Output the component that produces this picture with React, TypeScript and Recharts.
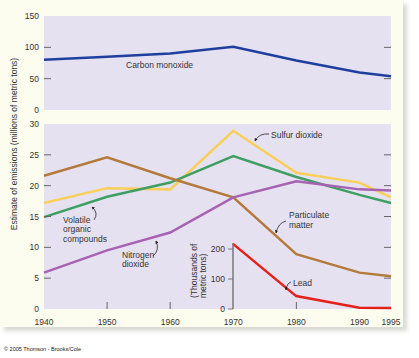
import { LineChart, Line, XAxis, YAxis, CartesianGrid } from 'recharts';

// years on the shared time axis
const years = [1940, 1950, 1960, 1970, 1980, 1990, 1995];
// millions of metric tons
const carbonMonoxide = [80, 85, 90, 101, 79, 60, 54];
const sulfurDioxide = [17.2, 19.6, 19.4, 28.9, 22.1, 20.5, 18.1];
const volatileOrganic = [14.9, 18.2, 20.5, 24.8, 21.4, 18.5, 17.2];
const particulate = [21.6, 24.6, 21.2, 18.1, 8.9, 5.9, 5.3];
const nitrogenDioxide = [5.9, 9.5, 12.4, 18.1, 20.7, 19.4, 19.2];
// lead, thousands of metric tons
const leadYears = [1970, 1980, 1990, 1995];
const lead = [217, 43, 4, 3];

const coTicks = [0, 50, 100, 150];
const mainTicks = [0, 5, 10, 15, 20, 25, 30];
const leadTicks = [0, 100, 200];
const yearTicks = [1940, 1950, 1960, 1970, 1980, 1990, 1995];
const yearTickMarks = [1950, 1960, 1980];

const W = 419;
const H = 358;
const PLOT_LEFT = 44;
const PLOT_RIGHT = 391;
const PANEL = '#e6e1f1';
const TEXT = '#333';
const FONT = '"Liberation Sans", Arial, sans-serif';

const coData = years.map((year, i) => ({ year, co: carbonMonoxide[i] }));
const mainData = years.map((year, i) => ({
  year,
  so2: sulfurDioxide[i],
  voc: volatileOrganic[i],
  pm: particulate[i],
  no2: nitrogenDioxide[i],
}));
const leadData = leadYears.map((year, i) => ({ year, lead: lead[i] }));

function yTick(props: any, min: number, max: number) {
  const { y, payload } = props;
  const inner = payload.value !== min && payload.value !== max;
  return (
    <g>
      <text x={PLOT_LEFT - 5} y={y + 3} textAnchor="end" fontSize={8.5} fill={TEXT} fontFamily={FONT}>
        {payload.value}
      </text>
      {inner && <line x1={PLOT_LEFT} x2={PLOT_LEFT + 7} y1={y} y2={y} stroke="#666" strokeWidth={1} />}
      {inner && <line x1={PLOT_RIGHT - 7} x2={PLOT_RIGHT} y1={y} y2={y} stroke="#666" strokeWidth={1} />}
    </g>
  );
}

function xTick(props: any) {
  const { x, payload } = props;
  const base = 309;
  return (
    <g>
      {yearTickMarks.includes(payload.value) && (
        <line x1={x} x2={x} y1={base} y2={base - 7} stroke="#666" strokeWidth={1} />
      )}
      <text x={x} y={base + 16} textAnchor="middle" fontSize={8.5} fill={TEXT} fontFamily={FONT}>
        {payload.value}
      </text>
    </g>
  );
}

const layer: React.CSSProperties = { position: 'absolute', left: 0, top: 0 };

export default function App() {
  return (
    <div style={{ position: 'absolute', left: 0, top: 0, width: W, height: H, background: '#fff', fontFamily: FONT }}>
      <div
        style={{
          ...layer,
          width: 403,
          height: 327,
          background: '#fdfdef',
          boxShadow: '4px 4px 4px rgba(130,130,110,0.3)',
        }}
      />

      {/* Carbon monoxide panel */}
      <div style={layer}>
        <LineChart width={W} height={H} data={coData} margin={{ top: 16, right: W - PLOT_RIGHT, bottom: H - 110, left: 0 }}>
          <CartesianGrid fill={PANEL} horizontal={false} vertical={false} />
          <XAxis dataKey="year" type="number" domain={[1940, 1995]} hide />
          <YAxis
            width={PLOT_LEFT}
            domain={[0, 150]}
            ticks={coTicks}
            axisLine={false}
            tickLine={false}
            tickSize={0}
            tickMargin={0}
            tick={(p: any) => yTick(p, 0, 150)}
          />
          <Line type="linear" dataKey="co" stroke="#1f3f9f" strokeWidth={2.5} dot={false} isAnimationActive={false} />
        </LineChart>
      </div>

      {/* Main pollutants panel */}
      <div style={layer}>
        <LineChart width={W} height={H} data={mainData} margin={{ top: 124, right: W - PLOT_RIGHT, bottom: H - 309 - 20, left: 0 }}>
          <CartesianGrid fill={PANEL} horizontal={false} vertical={false} />
          <XAxis
            dataKey="year"
            type="number"
            domain={[1940, 1995]}
            ticks={yearTicks}
            interval={0}
            height={20}
            axisLine={false}
            tickLine={false}
            tickSize={0}
            tickMargin={0}
            tick={xTick}
          />
          <YAxis
            width={PLOT_LEFT}
            domain={[0, 30]}
            ticks={mainTicks}
            axisLine={false}
            tickLine={false}
            tickSize={0}
            tickMargin={0}
            tick={(p: any) => yTick(p, 0, 30)}
          />
          <Line type="linear" dataKey="so2" stroke="#f9cf5a" strokeWidth={2.5} dot={false} isAnimationActive={false} />
          <Line type="linear" dataKey="voc" stroke="#3f9f63" strokeWidth={2.5} dot={false} isAnimationActive={false} />
          <Line type="linear" dataKey="pm" stroke="#b47a3c" strokeWidth={2.5} dot={false} isAnimationActive={false} />
          <Line type="linear" dataKey="no2" stroke="#a762b2" strokeWidth={2.5} dot={false} isAnimationActive={false} />
        </LineChart>
      </div>

      {/* Lead inset */}
      <div style={layer}>
        <LineChart width={W} height={H} data={leadData} margin={{ top: 243, right: W - PLOT_RIGHT, bottom: H - 309, left: 0 }}>
          <XAxis dataKey="year" type="number" domain={[1970, 1995]} hide />
          <YAxis
            width={233}
            domain={[0, 220]}
            ticks={leadTicks}
            axisLine={{ stroke: '#777', strokeWidth: 1.5 }}
            tickLine={{ stroke: '#777' }}
            tickSize={5}
            tickMargin={3}
            tick={{ fontSize: 8.5, fill: TEXT, fontFamily: FONT }}
          />
          <Line type="linear" dataKey="lead" stroke="#e5201b" strokeWidth={2.5} dot={false} isAnimationActive={false} />
        </LineChart>
      </div>

      {/* labels and arrows */}
      <svg style={{ ...layer, pointerEvents: 'none' }} width={W} height={H}>
        <defs>
          <marker id="ah" viewBox="0 0 6 6" refX="5" refY="3" markerWidth="4" markerHeight="4" orient="auto">
            <path d="M0,0 L6,3 L0,6 z" fill="#222" />
          </marker>
        </defs>
        <g fontFamily={FONT} fontSize={8.5} fill={TEXT}>
          <text x={17} y={144} textAnchor="middle" transform="rotate(-90 17 144)">
            Estimate of emissions (millions of metric tons)
          </text>
          <text x={126} y={68}>Carbon monoxide</text>
          <text x={271} y={138}>Sulfur dioxide</text>
          <text x={289} y={218}>Particulate</text>
          <text x={289} y={228}>matter</text>
          <text x={63} y={223}>Volatile</text>
          <text x={63} y={232}>organic</text>
          <text x={63} y={242}>compounds</text>
          <text x={122} y={258}>Nitrogen</text>
          <text x={122} y={267}>dioxide</text>
          <text x={293} y={286}>Lead</text>
          <text x={197} y={298} transform="rotate(-90 197 298)">(Thousands of</text>
          <text x={206} y={298} transform="rotate(-90 206 298)">metric tons)</text>
        </g>
        <g fill="none" stroke="#222" strokeWidth={0.8} markerEnd="url(#ah)">
          <path d="M269,134 Q259,133 255,141" />
          <path d="M286,221 Q278,223 276,233" />
          <path d="M94,220 Q99,213 92,207" />
          <path d="M153,256 Q160,250 156,241" />
          <path d="M291,282 Q287,283 286,290" />
        </g>
        <text x={4} y={351} fontSize={5.5} fill="#222" fontFamily={FONT}>
          © 2005 Thomson - Brooks/Cole
        </text>
      </svg>
    </div>
  );
}
